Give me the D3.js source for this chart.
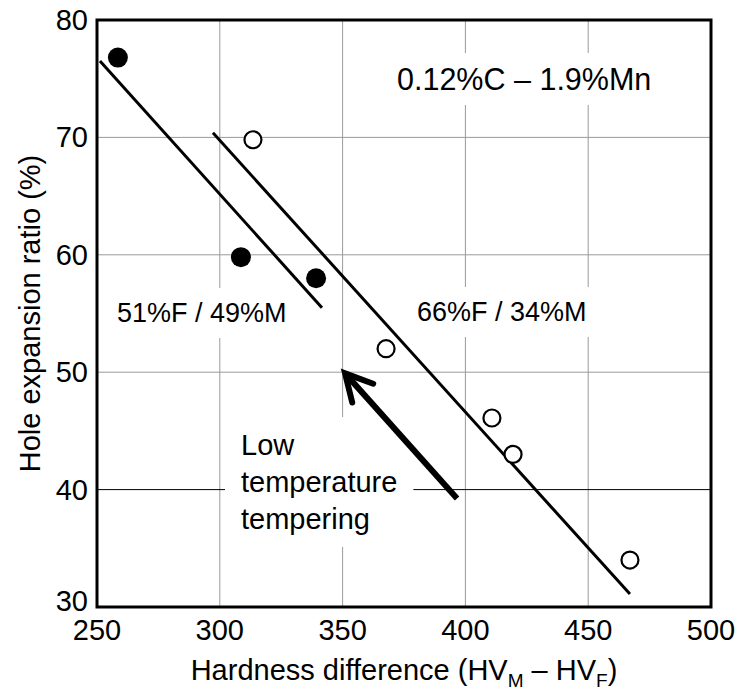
<!DOCTYPE html>
<html>
<head>
<meta charset="utf-8">
<script src="https://cdn.jsdelivr.net/npm/d3@7"></script>
<style>
  body { margin: 0; background: #fff; }
  text { font-family: "Liberation Sans", Arial, sans-serif; fill: #000; }
</style>
</head>
<body>
<div id="chart"></div>
<script>
/* Hole expansion ratio vs hardness difference */

// data
const filledX = [258.5, 308.6, 339.2]; // 51%F / 49%M
const filledY = [76.8, 59.8, 58.0];
const openX = [313.5, 367.7, 410.8, 419.4, 467.0]; // 66%F / 34%M
const openY = [69.8, 52.0, 46.1, 43.0, 34.0];
const line51X = [251.2, 341.6];
const line51Y = [76.5, 55.5];
const line66X = [297.2, 467.0];
const line66Y = [70.4, 31.1];
const arrowX = [396.6, 351.0]; // tail, tip
const arrowY = [39.25, 49.9];
const xTicks = [250, 300, 350, 400, 450, 500];
const yTicks = [30, 40, 50, 60, 70, 80];

// page layout
const width = 740,
    height = 691,
    margin = ({ top: 20, right: 29, bottom: 84, left: 97 });

let svg = d3.select("#chart")
    .append("svg")
    .attr("width", width)
    .attr("height", height);

let x = d3.scaleLinear()
    .domain([250, 500])
    .range([margin.left, width - margin.right]);

let y = d3.scaleLinear()
    .domain([30, 80])
    .range([height - margin.bottom, margin.top]);

// grid lines
let grid = svg.append("g");
grid.selectAll(".vgrid")
    .data(xTicks.slice(1, -1))
    .join("line")
    .attr("x1", d => x(d)).attr("x2", d => x(d))
    .attr("y1", y(30)).attr("y2", y(80))
    .attr("stroke", "#9a9a9a")
    .attr("stroke-width", 1);
grid.selectAll(".hgrid")
    .data(yTicks.slice(1, -1))
    .join("line")
    .attr("y1", d => y(d)).attr("y2", d => y(d))
    .attr("x1", x(250)).attr("x2", x(500))
    .attr("stroke", d => d == 40 ? "#000" : "#9a9a9a")
    .attr("stroke-width", 1);

// labels inside the plot sit on white boxes that cut the grid
let notes = svg.append("g");
function note(lines, px, py, size, lh, pad) {
    let g = notes.append("g");
    let box = g.append("rect").attr("fill", "#fff");
    let t = g.append("text")
        .attr("x", px).attr("y", py)
        .style("font-size", size + "px");
    lines.forEach((s, i) => {
        t.append("tspan").attr("x", px).attr("dy", i ? lh : 0).text(s);
    });
    let b = t.node().getBBox();
    box.attr("x", b.x - pad[0]).attr("y", b.y - pad[1])
        .attr("width", b.width + 2 * pad[0])
        .attr("height", b.height + 2 * pad[1]);
}
note(["0.12%C \u2013 1.9%Mn"], 397, 90, 30.5, 0, [10, 9]);
note(["51%F / 49%M"], 117, 322, 27, 0, [10, 10]);
note(["66%F / 34%M"], 417, 321, 27, 0, [10, 10]);
note(["Low", "temperature", "tempering"], 241, 455, 29, 37, [16, 12]);

// fit lines
const lineGen = d3.line().x(d => x(d[0])).y(d => y(d[1]));
svg.append("path")
    .attr("d", lineGen(d3.zip(line51X, line51Y)))
    .attr("fill", "none").attr("stroke", "#000").attr("stroke-width", 3);
svg.append("path")
    .attr("d", lineGen(d3.zip(line66X, line66Y)))
    .attr("fill", "none").attr("stroke", "#000").attr("stroke-width", 3);

// arrow
let tipX = x(arrowX[1]), tipY = y(arrowY[1]);
let ang = Math.atan2(y(arrowY[0]) - tipY, x(arrowX[0]) - tipX);
const armLen = 30, armAng = 28 * Math.PI / 180;
svg.append("path")
    .attr("d", lineGen(d3.zip(arrowX, arrowY)))
    .attr("stroke", "#000").attr("stroke-width", 6).attr("fill", "none");
svg.append("path")
    .attr("d", d3.line()([
        [tipX + armLen * Math.cos(ang - armAng), tipY + armLen * Math.sin(ang - armAng)],
        [tipX, tipY],
        [tipX + armLen * Math.cos(ang + armAng), tipY + armLen * Math.sin(ang + armAng)]
    ]))
    .attr("stroke", "#000").attr("stroke-width", 6)
    .attr("stroke-linecap", "round").attr("stroke-linejoin", "miter")
    .attr("fill", "none");

// points
svg.append("g").selectAll("circle")
    .data(d3.zip(filledX, filledY))
    .join("circle")
    .attr("cx", d => x(d[0])).attr("cy", d => y(d[1]))
    .attr("r", 10).attr("fill", "#000");
svg.append("g").selectAll("circle")
    .data(d3.zip(openX, openY))
    .join("circle")
    .attr("cx", d => x(d[0])).attr("cy", d => y(d[1]))
    .attr("r", 8.5).attr("fill", "#fff")
    .attr("stroke", "#000").attr("stroke-width", 2.2);

// frame
svg.append("rect")
    .attr("x", x(250)).attr("y", y(80))
    .attr("width", x(500) - x(250)).attr("height", y(30) - y(80))
    .attr("fill", "none").attr("stroke", "#000").attr("stroke-width", 3);

// tick labels
svg.append("g").selectAll("text")
    .data(xTicks)
    .join("text")
    .attr("x", d => x(d)).attr("y", y(30) + 33)
    .attr("text-anchor", "middle")
    .style("font-size", "29px")
    .text(d => d);
svg.append("g").selectAll("text")
    .data(yTicks)
    .join("text")
    .attr("x", margin.left - 9)
    .attr("y", d => y(d) + (d == 30 ? 4 : 10)) // bottom label lifted clear of 250
    .attr("text-anchor", "end")
    .style("font-size", "29px")
    .text(d => d);

// axis titles
let xt = svg.append("text")
    .attr("x", (x(250) + x(500)) / 2).attr("y", 680)
    .attr("text-anchor", "middle")
    .style("font-size", "29px");
xt.append("tspan").text("Hardness difference (HV");
xt.append("tspan").attr("dy", 7).style("font-size", "19px").text("M");
xt.append("tspan").attr("dy", -7).text(" \u2013 HV");
xt.append("tspan").attr("dy", 7).style("font-size", "19px").text("F");
xt.append("tspan").attr("dy", -7).text(")");

svg.append("text")
    .attr("transform", `translate(40,${(y(30) + y(80)) / 2}) rotate(-90)`)
    .attr("text-anchor", "middle")
    .style("font-size", "29px")
    .text("Hole expansion ratio (%)");
</script>
</body>
</html>
